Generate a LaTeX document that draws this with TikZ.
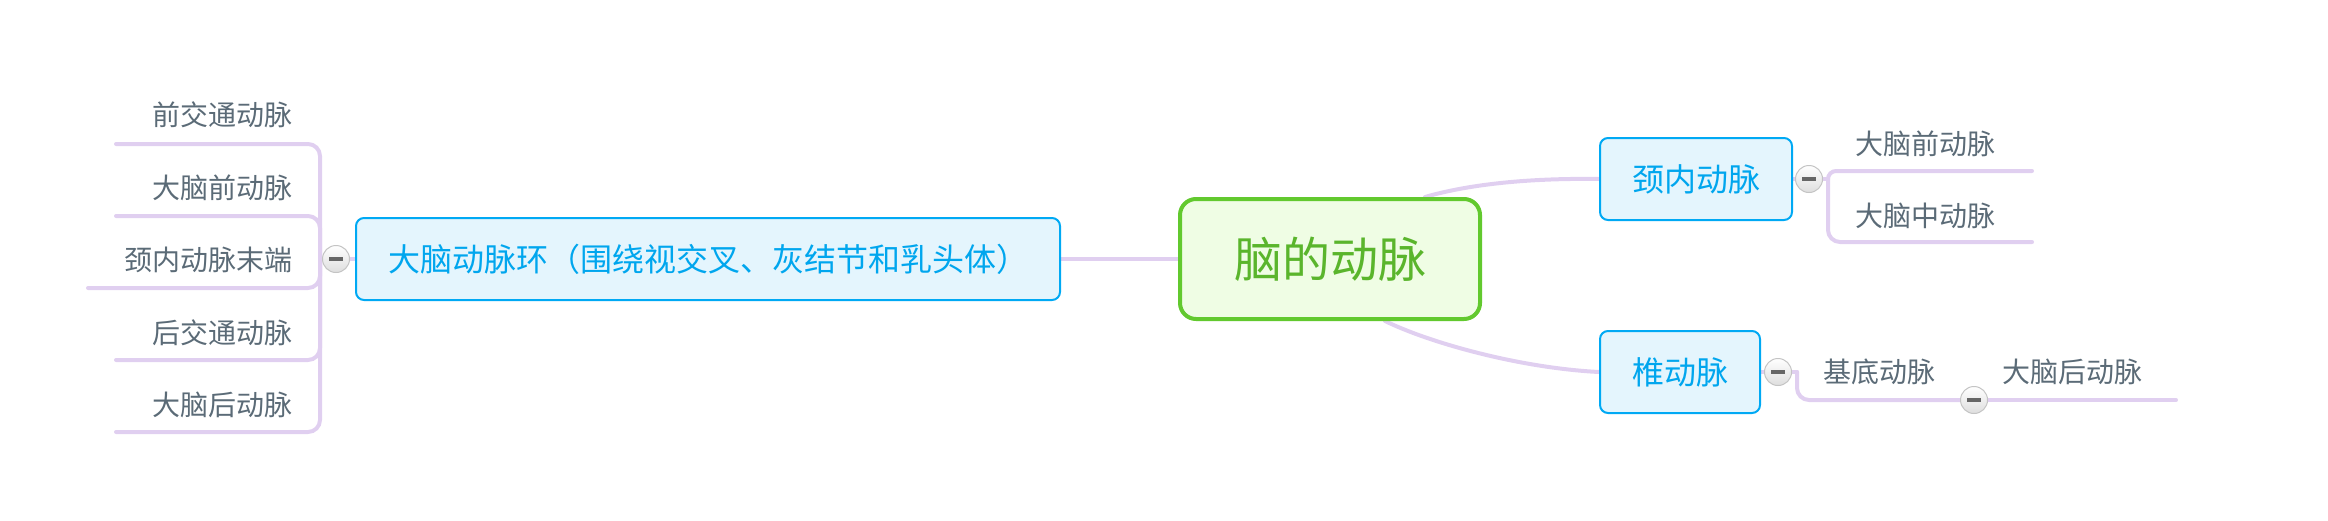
\documentclass[tikz,border=0pt]{standalone}
\usepackage{fontspec}
\setmainfont{Noto Sans CJK SC}
\definecolor{lav}{HTML}{E0CFF0}
\definecolor{blueb}{HTML}{00A9F4}
\definecolor{bluef}{HTML}{E4F5FD}
\definecolor{bluet}{HTML}{00A6EE}
\definecolor{greenb}{HTML}{62C92E}
\definecolor{greenf}{HTML}{EFFDE4}
\definecolor{greent}{HTML}{5AB52C}
\definecolor{leafc}{HTML}{5B6B77}
\definecolor{foldb}{HTML}{C4C4C4}
\definecolor{foldm}{HTML}{666666}
\pgfdeclarelayer{bg}
\pgfsetlayers{bg,main}
\begin{document}
\begin{tikzpicture}[x=1pt,y=-1pt,
  root/.style={rectangle, rounded corners=16pt, draw=greenb, fill=greenf, line width=4pt,
    text=greent, font=\fontsize{48}{56}\selectfont, inner sep=0pt,
    minimum width=300pt, minimum height=120pt},
  topic/.style={rectangle, rounded corners=8pt, draw=blueb, fill=bluef, line width=2pt,
    text=bluet, font=\fontsize{32}{38}\selectfont, inner sep=0pt, minimum height=82pt},
  leaf/.style={text=leafc, font=\fontsize{28}{34}\selectfont, inner sep=0pt},
  fold/.style={circle, minimum size=27pt, inner sep=0pt, draw=foldb, line width=1pt,
    top color=white, bottom color=black!13, text=foldm},
  branch/.style={draw=lav, line width=4pt, line cap=round}
]
\useasboundingbox (0,0) rectangle (2328,520);

% central topic
\node[root] (c) at (1330,259) {脑的动脉};

% left main branch
\node[topic, minimum width=704pt] (L) at (708,259) {大脑动脉环（围绕视交叉、灰结节和乳头体）};
\node[fold] (fl) at (336,259) {\rule{14pt}{3.5pt}};
\coordinate (ls) at (320,259);

\node[leaf, anchor=east] (l1) at (293,115) {前交通动脉};
\coordinate (l1e) at (116,144);
\node[leaf, anchor=east] (l2) at (293,188) {大脑前动脉};
\coordinate (l2e) at (116,216);
\node[leaf, anchor=east] (l3) at (293,260) {颈内动脉末端};
\coordinate (l3e) at (88,288);
\node[leaf, anchor=east] (l4) at (293,333) {后交通动脉};
\coordinate (l4e) at (116,360);
\node[leaf, anchor=east] (l5) at (293,405) {大脑后动脉};
\coordinate (l5e) at (116,432);

% right branches
\node[topic, minimum width=192pt] (r1) at (1696,179) {颈内动脉};
\node[topic, minimum width=160pt] (r2) at (1680,372) {椎动脉};
\node[fold] (f1) at (1809,179) {\rule{14pt}{3.5pt}};
\node[fold] (f2) at (1778,372) {\rule{14pt}{3.5pt}};
\coordinate (rs1) at (1828,179);

\node[leaf, anchor=west] (a1) at (1855,144) {大脑前动脉};
\coordinate (a1e) at (2032,171);
\node[leaf, anchor=west] (a2) at (1855,216) {大脑中动脉};
\coordinate (a2e) at (2032,242);

\coordinate (v1) at (1797,372);
\node[leaf, anchor=west] (b1) at (1823,372) {基底动脉};
\node[fold] (f3) at (1974,400) {\rule{14pt}{3.5pt}};
\node[leaf, anchor=west] (b2) at (2002,372) {大脑后动脉};
\coordinate (b2e) at (2176,400);

\begin{pgfonlayer}{bg}
  \draw[branch] (c.west) -- (L.east);
  \draw[branch] (L.west) -- (fl.east);
  \draw[branch] (fl.west) -- (ls);
  \foreach \e in {l1e,l2e,l3e,l4e,l5e}
    \draw[branch, rounded corners=12pt] (ls) |- (\e);

  \draw[branch] ([xshift=95pt]c.north) .. controls (1470,184) and (1530,178) .. (r1.west);
  \draw[branch] ([xshift=55pt]c.south) .. controls (1430,343) and (1520,368) .. (r2.west);

  \draw[branch] (r1.east) -- (f1.west);
  \draw[branch] (f1.east) -- (rs1);
  \draw[branch, rounded corners=8pt] (rs1) |- (a1e);
  \draw[branch, rounded corners=12pt] (rs1) |- (a2e);

  \draw[branch] (r2.east) -- (f2.west);
  \draw[branch] (f2.east) -- (v1);
  \draw[branch, rounded corners=12pt] (v1) |- (f3.west);
  \draw[branch] (f3.east) -- (b2e);
\end{pgfonlayer}
\end{tikzpicture}
\end{document}
